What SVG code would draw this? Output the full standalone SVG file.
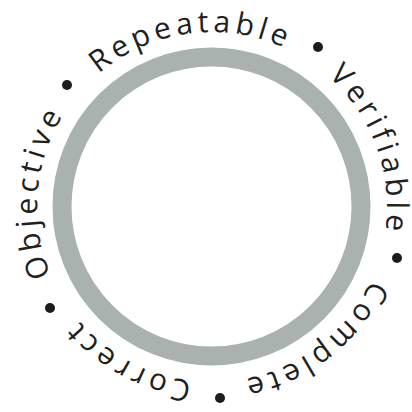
<svg xmlns="http://www.w3.org/2000/svg" width="412" height="412" viewBox="0 0 412 412">
<style>
.lbl{font-family:"Open Sans","DejaVu Sans",sans-serif;font-size:30px;letter-spacing:4.4px;fill:#231f20;text-anchor:middle}
.dot{fill:#1c1c1c}
</style>
<defs>
<path id="tp" d="M 212 382 A 175 175 0 0 1 212 32 A 175 175 0 0 1 212 382"/>
</defs>
<rect width="412" height="412" fill="#ffffff"/>
<g id="ring">
<circle cx="211.5" cy="206.5" r="149.5" fill="none" stroke="#a9b2af" stroke-width="19"/>
</g>
<g id="repeatable"><text class="lbl"><textPath href="#tp" startOffset="526.9">Repeatable</textPath></text></g>
<g id="verifiable"><text class="lbl"><textPath href="#tp" startOffset="764.1">Verifiable</textPath></text></g>
<g id="complete"><text class="lbl"><textPath href="#tp" startOffset="984.2">Complete</textPath></text></g>
<g id="correct"><text class="lbl"><textPath href="#tp" startOffset="87.3">Correct</textPath></text></g>
<g id="objective"><text class="lbl"><textPath href="#tp" startOffset="289.6">Objective</textPath></text></g>
<g id="dots">
<circle class="dot" cx="318" cy="47" r="5"/>
<circle class="dot" cx="397" cy="258" r="5"/>
<circle class="dot" cx="220" cy="398" r="5"/>
<circle class="dot" cx="50" cy="308" r="5"/>
<circle class="dot" cx="67" cy="85" r="5"/>
</g>
</svg>
